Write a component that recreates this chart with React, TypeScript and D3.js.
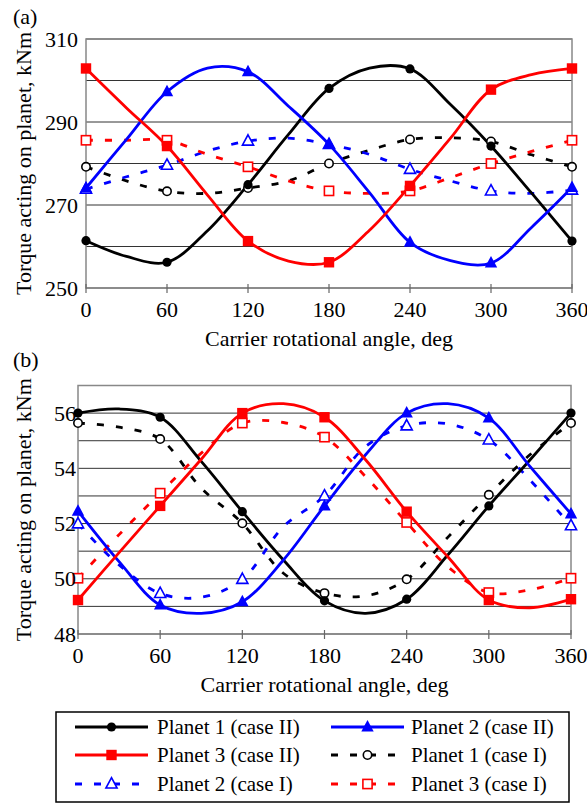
import React from 'react';
import * as d3 from 'd3';

// ---------- data ----------
const ANGLES = [0, 30, 60, 90, 120, 150, 180, 210, 240, 270, 300, 330, 360];
const X_TICKS = [0, 60, 120, 180, 240, 300, 360];

// Panel (a)
const A_Y_TICKS = [250, 270, 290, 310];
const A_P1_II = [261.4, 257.6, 256.2, 263.8, 274.9, 287, 298.1, 303, 302.8, 294.2, 284.2, 272.9, 261.3];
const A_P2_II = [274.1, 285.8, 297.3, 303.0, 302.1, 293.8, 284.6, 273, 261.0, 256.6, 256, 264.6, 274.2];
const A_P3_II = [302.9, 293.4, 284.2, 272.4, 261.3, 256.5, 256.2, 263.9, 274.6, 286.1, 297.8, 301.4, 302.9];
const A_P1_I = [279.2, 275.8, 273.3, 272.8, 274.1, 275.8, 280, 283.2, 285.8, 286.2, 285.3, 282.1, 279.2];
const A_P2_I = [273.8, 276.8, 279.6, 283, 285.4, 286.1, 284.6, 282.2, 278.6, 275.8, 273.4, 272.8, 273.6];
const A_P3_I = [285.6, 285.6, 285.6, 282.2, 279.2, 275.8, 273.4, 272.8, 273.4, 276.6, 280, 282.9, 285.6];

// Panel (b)
const B_Y_TICKS = [48, 50, 52, 54, 56];
const B_P1_II = [56.0, 56.15, 55.85, 54.25, 52.43, 50.68, 49.2, 48.75, 49.26, 50.86, 52.64, 54.3, 56.0];
const B_P2_II = [52.45, 50.62, 49.05, 48.75, 49.17, 50.68, 52.64, 54.49, 56.0, 56.34, 55.82, 54.07, 52.35];
const B_P3_II = [49.23, 50.95, 52.64, 54.33, 56.0, 56.34, 55.85, 54.31, 52.43, 50.8, 49.23, 48.95, 49.26];
const B_P1_I = [55.64, 55.49, 55.06, 53.28, 52.01, 50.2, 49.48, 49.38, 49.98, 51.5, 53.04, 54.49, 55.64];
const B_P2_I = [51.99, 50.5, 49.47, 49.33, 49.98, 51.89, 53.0, 54.79, 55.54, 55.61, 55.03, 53.58, 51.92];
const B_P3_I = [50.02, 51.6, 53.1, 54.55, 55.64, 55.66, 55.13, 53.7, 52.04, 50.44, 49.5, 49.6, 50.02];

const LEGEND_LABELS = [
  'Planet 1 (case II)', 'Planet 2 (case II)',
  'Planet 3 (case II)', 'Planet 1 (case I)',
  'Planet 2 (case I)', 'Planet 3 (case I)',
];

// ---------- styling ----------
const FONT = '"Liberation Serif", "Times New Roman", serif';
const BLACK = '#000000';
const BLUE = '#0000ff';
const RED = '#ff0000';
const DASH = '7,12';

type MarkerKind = 'circle' | 'square' | 'triangle';
interface Style { color: string; dashed: boolean; marker: MarkerKind; filled: boolean; }

const S_P1_II: Style = { color: BLACK, dashed: false, marker: 'circle', filled: true };
const S_P2_II: Style = { color: BLUE, dashed: false, marker: 'triangle', filled: true };
const S_P3_II: Style = { color: RED, dashed: false, marker: 'square', filled: true };
const S_P1_I: Style = { color: BLACK, dashed: true, marker: 'circle', filled: false };
const S_P2_I: Style = { color: BLUE, dashed: true, marker: 'triangle', filled: false };
const S_P3_I: Style = { color: RED, dashed: true, marker: 'square', filled: false };

function Marker({ x, y, s }: { x: number; y: number; s: Style }) {
  const fill = s.filled ? s.color : '#ffffff';
  const sw = s.filled ? 0 : 1.6;
  if (s.marker === 'circle') {
    return <circle cx={x} cy={y} r={s.filled ? 4.6 : 4.2} fill={fill} stroke={s.color} strokeWidth={sw} />;
  }
  if (s.marker === 'square') {
    const h = s.filled ? 5.2 : 4.6;
    return <rect x={x - h} y={y - h} width={2 * h} height={2 * h} fill={fill} stroke={s.color} strokeWidth={sw} />;
  }
  const k = s.filled ? 1 : 0.9;
  const pts = [[0, -7 * k], [6.2 * k, 4.5 * k], [-6.2 * k, 4.5 * k]]
    .map(([dx, dy]) => `${x + dx},${y + dy}`).join(' ');
  return <polygon points={pts} fill={fill} stroke={s.color} strokeWidth={sw} strokeLinejoin="miter" />;
}

interface PanelProps {
  left: number; right: number; top: number; bottom: number;
  domain: [number, number]; step: number; yTicks: number[];
  series: { values: number[]; style: Style }[];
  label: string; labelY: number;
}

function Panel(p: PanelProps) {
  const x = d3.scaleLinear().domain([0, 360]).range([p.left, p.right]);
  const y = d3.scaleLinear().domain(p.domain).range([p.bottom, p.top]);
  const grid = d3.range(p.domain[0], p.domain[1] + 1e-9, p.step);
  const line = d3.line<number>()
    .x((_, i) => x(ANGLES[i]))
    .y((d) => y(d))
    .curve(d3.curveCatmullRom.alpha(0.5));
  const cx = (p.left + p.right) / 2;
  const cy = (p.top + p.bottom) / 2;
  return (
    <g>
      <text x={13} y={p.labelY} fontSize={22} fontFamily={FONT}>{p.label}</text>
      {grid.map((g) => (
        <line key={g} x1={p.left} x2={p.right} y1={y(g)} y2={y(g)} stroke="#333" strokeWidth={1} />
      ))}
      <rect x={p.left} y={p.top} width={p.right - p.left} height={p.bottom - p.top}
        fill="none" stroke="#888" strokeWidth={1.5} />
      {X_TICKS.map((t) => (
        <line key={t} x1={x(t)} x2={x(t)} y1={p.bottom - 4} y2={p.bottom + 5} stroke="#666" strokeWidth={1.2} />
      ))}
      {p.series.map((s, k) => (
        <path key={k} d={line(s.values) || ''} fill="none" stroke={s.style.color} strokeWidth={2.8}
          strokeDasharray={s.style.dashed ? DASH : undefined} />
      ))}
      {p.series.map((s, k) => (
        <g key={k}>
          {s.values.map((v, i) => (ANGLES[i] % 60 === 0
            ? <Marker key={i} x={x(ANGLES[i])} y={y(v)} s={s.style} /> : null))}
        </g>
      ))}
      {p.yTicks.map((t) => (
        <text key={t} x={p.left - (p.left > 82 ? 8 : 2)} y={y(t)} dy="0.35em" textAnchor="end"
          fontSize={22} fontFamily={FONT}>{t}</text>
      ))}
      {X_TICKS.map((t) => (
        <text key={t} x={x(t)} y={p.bottom + 29} textAnchor="middle" fontSize={22} fontFamily={FONT}>{t}</text>
      ))}
      <text x={cx} y={p.bottom + 58} textAnchor="middle" fontSize={22} fontFamily={FONT}>
        Carrier rotational angle, deg
      </text>
      <text transform={`translate(31,${cy}) rotate(-90)`} textAnchor="middle" fontSize={22} fontFamily={FONT}>
        Torque acting on planet, kNm
      </text>
    </g>
  );
}

function Legend() {
  const styles = [S_P1_II, S_P2_II, S_P3_II, S_P1_I, S_P2_I, S_P3_I];
  const rows = [727, 755, 784];
  const cols = [{ l0: 75, l1: 148, t: 157 }, { l0: 331, l1: 404, t: 411 }];
  return (
    <g>
      <rect x={56} y={712} width={513} height={90} fill="none" stroke="#000" strokeWidth={1.5} />
      {styles.map((s, i) => {
        const r = rows[Math.floor(i / 2)];
        const c = cols[i % 2];
        const mx = (c.l0 + c.l1) / 2;
        return (
          <g key={i}>
            <line x1={c.l0} x2={c.l1} y1={r} y2={r} stroke={s.color} strokeWidth={2.8}
              strokeDasharray={s.dashed ? DASH : undefined} />
            <Marker x={mx} y={r} s={s} />
            <text x={c.t} y={r} dy="0.33em" fontSize={21} fontFamily={FONT}>{LEGEND_LABELS[i]}</text>
          </g>
        );
      })}
    </g>
  );
}

export default function App() {
  const seriesA = [
    { values: A_P1_I, style: S_P1_I }, { values: A_P2_I, style: S_P2_I }, { values: A_P3_I, style: S_P3_I },
    { values: A_P1_II, style: S_P1_II }, { values: A_P2_II, style: S_P2_II }, { values: A_P3_II, style: S_P3_II },
  ];
  const seriesB = [
    { values: B_P1_I, style: S_P1_I }, { values: B_P2_I, style: S_P2_I }, { values: B_P3_I, style: S_P3_I },
    { values: B_P1_II, style: S_P1_II }, { values: B_P2_II, style: S_P2_II }, { values: B_P3_II, style: S_P3_II },
  ];
  return (
    <svg width={587} height={804} style={{ position: 'absolute', left: 0, top: 0, background: '#fff' }}>
      <rect x={0} y={0} width={587} height={804} fill="#fff" />
      <Panel left={86} right={572} top={39} bottom={288} domain={[250, 310]} step={10}
        yTicks={A_Y_TICKS} series={seriesA} label="(a)" labelY={24} />
      <Panel left={78} right={571} top={385.5} bottom={634} domain={[48, 57]} step={1}
        yTicks={B_Y_TICKS} series={seriesB} label="(b)" labelY={367} />
      <Legend />
    </svg>
  );
}
